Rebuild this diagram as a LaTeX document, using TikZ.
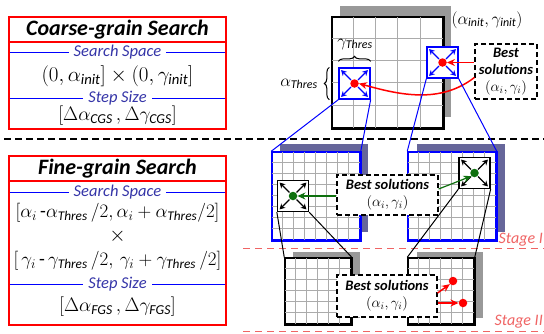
\RequirePackage{fix-cm}
\documentclass[tikz,border=0pt]{standalone}
\usepackage{amsmath}
\usepackage{fontspec}
\setmainfont{Carlito}
\usetikzlibrary{arrows.meta,calc,positioning,decorations.pathreplacing}
\definecolor{srchblue}{HTML}{3535A8}
\definecolor{gridgray}{HTML}{ABABAB}
\definecolor{shadegray}{HTML}{999999}
\definecolor{shadeslate}{HTML}{66669A}
\definecolor{solgreen}{HTML}{0E700E}
\definecolor{stagered}{HTML}{F06464}

\begin{document}
\begin{tikzpicture}[x=1pt,y=-1pt,line join=miter,
  panel/.style={draw=red,line width=1.3pt},
  headline/.style={font=\fontsize{22}{24}\selectfont\bfseries\itshape,inner sep=0pt},
  sublabel/.style={fill=white,text=srchblue,font=\fontsize{16.5}{18}\selectfont\itshape,inner xsep=5pt,inner ysep=1pt},
  formula/.style={font=\fontsize{21}{23}\selectfont,inner sep=0pt},
  stepformula/.style={font=\fontsize{19.5}{21}\selectfont,inner sep=0pt},
  fineformula/.style={font=\fontsize{19}{21}\selectfont,inner sep=0pt},
  tag/.style={font=\fontsize{17}{19}\selectfont,inner sep=0pt},
  win/.style={draw,fill=white,line width=1.3pt,minimum size=31pt,inner sep=0pt},
  field/.style={fill=white,line width=1.5pt,inner sep=0pt},
  dot/.style={circle,inner sep=0pt,minimum size=8.5pt},
  solbox/.style={draw,fill=white,line width=1.2pt,dash pattern=on 5pt off 3pt,align=center,inner sep=2pt,font=\fontsize{14.5}{17}\selectfont},
  spread/.style={->,line width=1.4pt,>={Stealth[length=5.5pt,width=6pt]}},
  point/.style={->,line width=1.5pt,>={Stealth[length=8pt,width=7pt]}},
  stage/.style={text=stagered,font=\fontsize{16}{18}\selectfont\itshape,anchor=east,inner sep=0pt}]
\path[use as bounding box] (0,0) rectangle (544,333);
\fill[white] (0,0) rectangle (544,333);

% coarse-grain panel
\draw[blue,line width=1pt] (9,52) -- (226,52);
\draw[blue,line width=1pt] (9,98) -- (226,98);
\draw[panel] (9,17) rectangle (226,129);
\draw[panel] (9,42) -- (226,42);
\node[headline] (cgtitle) at (117.5,30) {Coarse-grain Search};
\node[sublabel] (cgspace) at (117.5,52) {Search Space};
\node[formula] (cgrange) at (117.5,76) {$(0,\alpha_{\textit{init}}]\times(0,\gamma_{\textit{init}}]$};
\node[sublabel] (cgstep) at (117.5,98) {Step Size};
\node[stepformula] (cgsize) at (117.5,116) {$[\Delta\alpha_{\textit{CGS}}\,,\Delta\gamma_{\textit{CGS}}]$};

% fine-grain panel
\draw[blue,line width=1pt] (9,192) -- (226,192);
\draw[blue,line width=1pt] (9,284) -- (226,284);
\draw[panel] (9,156) rectangle (226,325);
\draw[panel] (9,181) -- (226,181);
\node[headline] (fgtitle) at (117.5,169) {Fine-grain Search};
\node[sublabel] (fgspace) at (117.5,192) {Search Space};
\node[fineformula] (fgalpha) at (117.5,213) {$[\alpha_i\,\text{-}\alpha_{\textit{Thres}}\,/2,\alpha_i+\alpha_{\textit{Thres}}/2]$};
\node[formula] (fgtimes) at (117.5,236) {$\times$};
\node[fineformula] (fggamma) at (117.5,261) {$[\,\gamma_i\,\text{-}\,\gamma_{\textit{Thres}}\,/2,\,\gamma_i+\gamma_{\textit{Thres}}\,/2]$};
\node[sublabel] (fgstep) at (117.5,284) {Step Size};
\node[stepformula] (fgsize) at (117.5,307) {$[\Delta\alpha_{\textit{FGS}}\,,\Delta\gamma_{\textit{FGS}}]$};

% separators
\draw[line width=1.6pt,dash pattern=on 7pt off 4pt] (4,139) -- (544,139);
\draw[stagered,line width=1pt,dash pattern=on 7pt off 5pt] (243,248) -- (544,248);
\draw[stagered,line width=1pt,dash pattern=on 7pt off 5pt] (243,331) -- (544,331);
\node[stage] (stone) at (543,240) {Stage I};
\node[stage] (sttwo) at (543,322) {Stage II};

% coarse grid, 5 x 5
\fill[shadegray] (340,6) rectangle (451,117);
\node[field,draw,minimum size=111pt] (cgrid) at (387.5,72.5) {};
\foreach \k in {1,...,4} {
  \draw[gridgray,line width=.8pt] ($(cgrid.north west)+(\k*22.2,0)$) -- ($(cgrid.south west)+(\k*22.2,0)$);
  \draw[gridgray,line width=.8pt] ($(cgrid.north west)+(0,\k*22.2)$) -- ($(cgrid.north east)+(0,\k*22.2)$);
}
\draw[line width=1.5pt] (cgrid.north west) rectangle (cgrid.south east);
\node[win,draw=blue] (wina) at (354.5,83.5) {};
\node[win,draw=blue] (winb) at (442.5,62.5) {};
\foreach \w in {wina,winb}
  \foreach \a in {45,135,225,315}
    \draw[spread,blue] ($(\w)+(\a:5)$) -- ($(\w)+(\a:19)$);
\node[dot,fill=red] (pa) at (wina) {};
\node[dot,fill=red] (pb) at (winb) {};
\draw[decorate,decoration={brace,amplitude=5pt},line width=1pt] ($(wina.north west)+(0,-6)$) -- ($(wina.north east)+(0,-6)$);
\draw[decorate,decoration={brace,amplitude=5pt},line width=1pt] ($(wina.south west)+(-9,0)$) -- ($(wina.north west)+(-9,0)$);
\node[tag] (gthres) at (355,44) {$\gamma_{\textit{Thres}}$};
\node[tag] (athres) at (299,84) {$\alpha_{\textit{Thres}}$};
\node[tag] (initlbl) at (487,20) {$(\alpha_{\textit{init}},\gamma_{\textit{init}})$};
\node[solbox,minimum width=62pt,minimum height=55pt] (bsa) at (506,71.5) {\textbf{\textit{Best}}\\\textbf{\textit{solutions}}\\$(\alpha_i,\gamma_i)$};
\draw[point,red] (bsa.west |- pb) -- (pb.east);
\draw[point,red] ($(bsa.west)+(0,6)$) .. controls (440,104) and (400,95) .. (pa.east);

% stage I grids, 8 x 8
\fill[shadeslate] (280,144) rectangle (368,232);
\fill[shadeslate] (417,144) rectangle (505,232);
\node[field,draw=blue,minimum size=88pt] (ga) at (316,196) {};
\node[field,draw=blue,minimum size=88pt] (gb) at (452,196) {};
\foreach \g in {ga,gb} {
  \foreach \k in {1,...,7} {
    \draw[gridgray,line width=.8pt] ($(\g.north west)+(\k*11,0)$) -- ($(\g.south west)+(\k*11,0)$);
    \draw[gridgray,line width=.8pt] ($(\g.north west)+(0,\k*11)$) -- ($(\g.north east)+(0,\k*11)$);
  }
  \draw[blue,line width=1.5pt] (\g.north west) rectangle (\g.south east);
}
\draw[blue,line width=1pt] (wina.south west) -- (ga.north west);
\draw[blue,line width=1pt] (wina.south east) -- (ga.north east);
\draw[blue,line width=1pt] (winb.south west) -- (gb.north west);
\draw[blue,line width=1pt] (winb.south east) -- (gb.north east);
\node[win] (winc) at (293,196) {};
\node[win] (wind) at (474.5,173) {};
\foreach \w in {winc,wind}
  \foreach \a in {45,135,225,315}
    \draw[spread] ($(\w)+(\a:5)$) -- ($(\w)+(\a:19)$);
\node[dot,fill=solgreen] (kc) at (winc) {};
\node[dot,fill=solgreen] (kd) at (wind) {};
\node[solbox,minimum width=101pt,minimum height=40pt] (bsb) at (387.5,195) {\textbf{\textit{Best solutions}}\\$(\alpha_i,\gamma_i)$};
\draw[point,solgreen,line width=1.2pt] (bsb.west |- kc) -- (kc.east);
\draw[point,solgreen,line width=1.2pt] ($(bsb.east)+(0,-6)$) -- (kd.south west);

% stage II grids, 6 x 6
\fill[shadegray] (293,252) rectangle (360,318);
\fill[shadegray] (417,252) rectangle (483,318);
\node[field,draw,minimum size=66pt] (gc) at (318,291) {};
\node[field,draw,minimum size=66pt] (gd) at (441,291) {};
\foreach \g in {gc,gd} {
  \foreach \k in {1,...,5} {
    \draw[gridgray,line width=.8pt] ($(\g.north west)+(\k*11,0)$) -- ($(\g.south west)+(\k*11,0)$);
    \draw[gridgray,line width=.8pt] ($(\g.north west)+(0,\k*11)$) -- ($(\g.north east)+(0,\k*11)$);
  }
  \draw[line width=1.5pt] (\g.north west) rectangle (\g.south east);
}
\draw[line width=1pt] (winc.south west) -- (gc.north west);
\draw[line width=1pt] (winc.south east) -- (gc.north east);
\draw[line width=1pt] (wind.south west) -- (gd.north west);
\draw[line width=1pt] (wind.south east) -- (gd.north east);
\node[solbox,minimum width=100pt,minimum height=42pt] (bsc) at (387,296) {\textbf{\textit{Best solutions}}\\$(\alpha_i,\gamma_i)$};
\node[dot,fill=red] (qa) at (453,281) {};
\node[dot,fill=red] (qb) at (463,303) {};
\draw[point,red] ($(bsc.east)+(0,-3)$) -- (qa.south west);
\draw[point,red] (bsc.east |- qb) -- (qb.west);
\end{tikzpicture}
\end{document}
